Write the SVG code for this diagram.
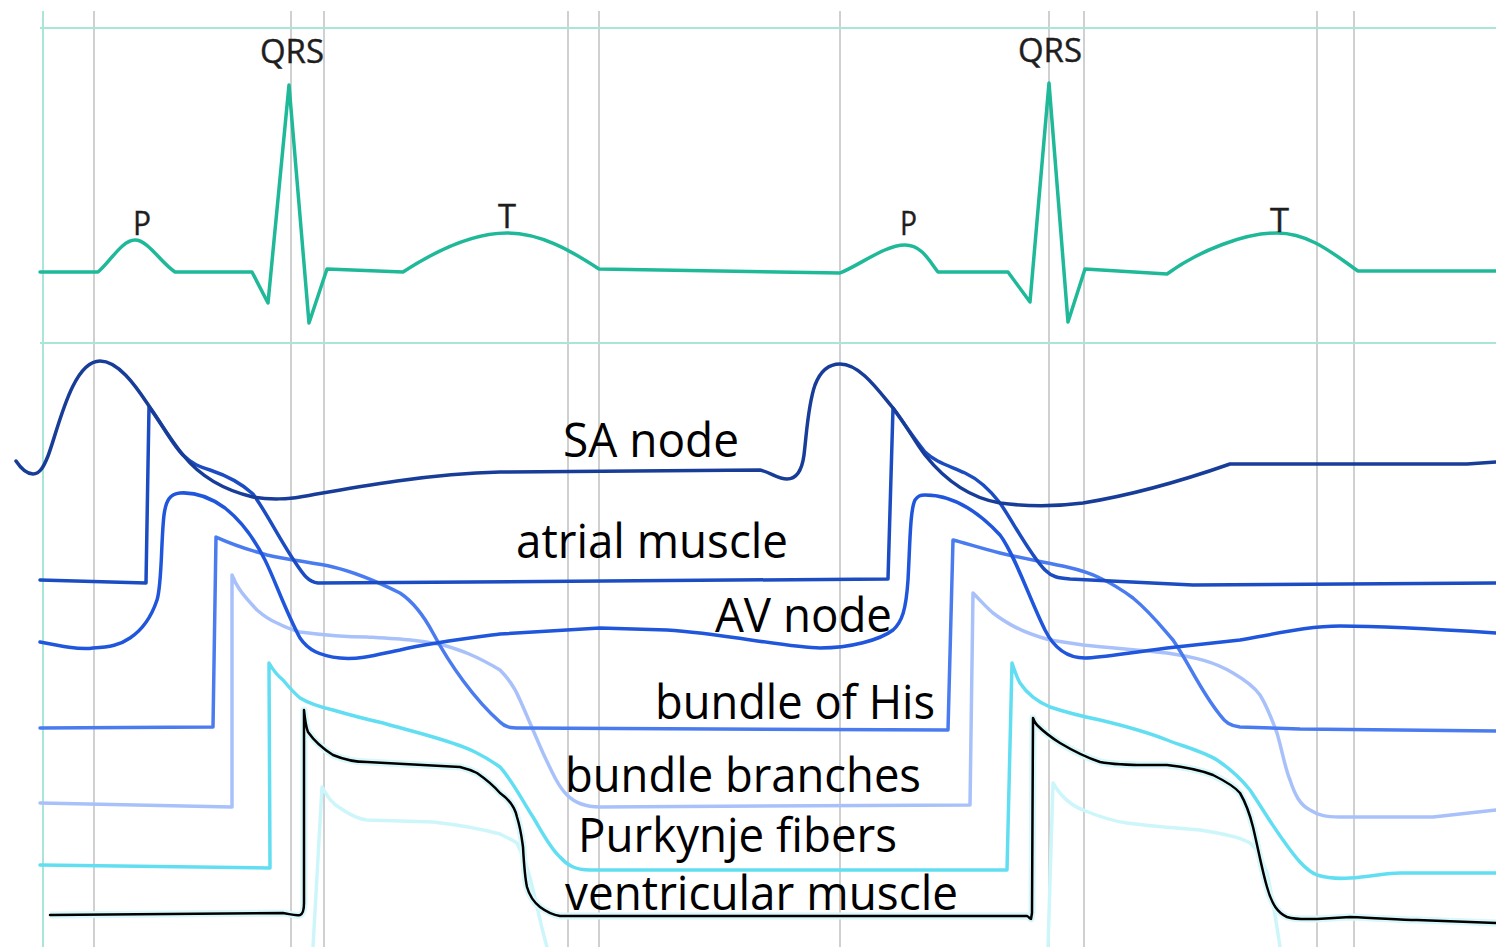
<svg xmlns="http://www.w3.org/2000/svg" width="1496" height="947" viewBox="0 0 1496 947">
<style>
.grid-teal{stroke:#a9e6d8;stroke-width:2;fill:none}
.grid-gray{stroke:#d0d0d0;stroke-width:2;fill:none}
.curve{fill:none;stroke-width:3.5;stroke-linejoin:round;stroke-linecap:round}
.top{font-family:"Open Sans","Noto Sans",sans-serif;font-size:32px;fill:#1e1e1e;stroke:#1e1e1e;stroke-width:0.4}
.lbl{font-family:"Open Sans","Noto Sans",sans-serif;font-size:47px;fill:#000}
</style>
<defs>
<path id="vm" d="M50,915 L283,913 C290,914 295,916 300,915 C303,914 304,910 304,903 L304,710 C305,720 306,727 308,732 C315,742 325,750 333,755 C345,760 355,762 367,762 L460,767 C468,769 473,771 477,773 C487,780 494,786 500,793 C510,800 515,808 517,817 C521,830 522,840 523,847 C524,865 525,878 527,887 C530,898 535,903 540,907 C548,913 553,915 560,916 L1027,916 C1029,917 1030,919 1031,919 L1032,913 L1033,718 C1034,721 1035,723 1037,725 C1045,733 1052,738 1060,743 C1075,752 1088,758 1100,762 C1120,766 1145,765 1167,765 C1185,767 1200,770 1213,775 C1225,781 1235,787 1240,793 C1247,805 1250,815 1253,827 C1258,848 1262,870 1267,887 C1272,905 1278,913 1287,917 C1297,920 1307,919 1317,919 L1350,917 C1380,918 1400,920 1417,920 L1496,923"/>
</defs>
<rect width="1496" height="947" fill="#fff"/>
<g id="grid">
<line class="grid-gray" x1="94" y1="11" x2="94" y2="947"/>
<line class="grid-gray" x1="291" y1="11" x2="291" y2="947"/>
<line class="grid-gray" x1="324" y1="11" x2="324" y2="947"/>
<line class="grid-gray" x1="568" y1="11" x2="568" y2="947"/>
<line class="grid-gray" x1="599" y1="11" x2="599" y2="947"/>
<line class="grid-gray" x1="840" y1="11" x2="840" y2="947"/>
<line class="grid-gray" x1="1049" y1="11" x2="1049" y2="947"/>
<line class="grid-gray" x1="1084" y1="11" x2="1084" y2="947"/>
<line class="grid-gray" x1="1317" y1="11" x2="1317" y2="947"/>
<line class="grid-gray" x1="1354" y1="11" x2="1354" y2="947"/>
<line class="grid-teal" x1="43" y1="11" x2="43" y2="947"/>
<line class="grid-teal" x1="40" y1="28" x2="1496" y2="28"/>
<line class="grid-teal" x1="40" y1="343" x2="1496" y2="343"/>
</g>
<g id="ecg">
<path class="curve" stroke="#1fb99a" d="M40,272 L98,272 C110,262 122,240 135,240 C148,240 160,262 175,272 L252,272 L268,303 L289,85 L309,323 L327,269 L403,272 C440,248 475,233 507,233 C540,233 570,250 599,269 L840,273 C860,265 885,245 905,245 C922,245 930,262 938,272 L1008,272 L1030,302 L1049,83 L1068,322 L1085,269 L1167,274 C1200,250 1245,233 1277,233 C1310,233 1335,255 1358,271 L1496,271"/>
<text class="top" x="260" y="63" textLength="64" lengthAdjust="spacingAndGlyphs">QRS</text>
<text class="top" x="1018" y="62" textLength="64" lengthAdjust="spacingAndGlyphs">QRS</text>
<text class="top" x="133" y="235" textLength="18" lengthAdjust="spacingAndGlyphs">P</text>
<text class="top" x="498" y="228" textLength="18" lengthAdjust="spacingAndGlyphs">T</text>
<text class="top" x="900" y="235" textLength="17" lengthAdjust="spacingAndGlyphs">P</text>
<text class="top" x="1270" y="232" textLength="19" lengthAdjust="spacingAndGlyphs">T</text>
</g>
<g id="action-potentials">
<path id="ventricular-pale" class="curve" stroke="#cdf6fb" d="M313,947 L322,787 C327,795 330,802 340,808 C350,815 358,819 367,820 L433,822 C460,825 485,830 500,834 C508,838 512,840 517,843 C525,860 530,875 533,890 C538,910 542,930 547,947 M1048,947 L1053,783 C1060,795 1070,805 1083,810 C1100,817 1112,821 1127,823 C1150,826 1175,828 1200,830 C1220,833 1240,837 1250,843 C1258,850 1262,860 1267,873 C1272,895 1276,920 1280,947"/>
<path id="purkinje" class="curve" stroke="#62def2" d="M40,865 L270,868 L269,663 C273,670 278,676 283,680 C288,686 294,693 300,698 C310,704 320,707 333,710 C350,715 365,719 383,723 C400,728 417,732 433,737 C450,742 465,747 475,752 C485,757 493,762 500,767 C512,780 522,800 533,817 C542,832 550,848 560,857 C567,865 575,870 590,870 L1007,870 L1012,663 C1015,672 1017,678 1020,683 C1028,695 1038,702 1050,707 C1065,712 1080,716 1100,720 C1125,726 1147,732 1167,740 C1185,747 1205,752 1217,760 C1232,770 1242,780 1250,790 C1262,808 1272,825 1283,840 C1295,857 1305,870 1317,875 C1327,878 1338,879 1350,878 C1370,877 1385,873 1400,873 L1496,873"/>
<path id="bundle-branches" class="curve" stroke="#a9c1fa" d="M40,803 L232,807 L232,575 C236,585 240,592 257,610 C265,617 272,621 277,623 C285,627 292,630 300,632 C330,636 350,637 367,637 C400,639 420,640 443,645 C460,650 475,655 500,670 C510,680 515,688 520,700 C528,718 535,735 543,753 C552,772 558,786 567,795 C575,803 585,807 600,807 L970,805 L973,593 C980,600 985,606 993,613 C1005,622 1020,632 1050,640 L1083,645 C1110,648 1140,650 1167,653 C1195,657 1215,662 1233,673 C1245,680 1255,688 1260,695 C1268,708 1272,720 1277,733 C1282,750 1285,768 1290,780 C1295,795 1300,805 1310,810 C1318,815 1325,817 1340,817 L1433,817 L1496,810"/>
<path id="bundle-of-his" class="curve" stroke="#4a7cf0" d="M40,728 L213,727 L216,537 C225,541 235,546 267,555 C290,560 315,563 333,567 C350,571 370,578 400,593 C415,603 425,618 433,633 C450,665 475,700 500,722 C505,727 510,728 520,728 L948,730 L953,540 C965,543 980,548 1000,553 C1030,560 1050,563 1067,567 C1080,570 1090,573 1100,578 C1115,585 1125,592 1133,598 C1150,612 1160,625 1173,640 C1190,665 1200,690 1220,715 C1225,722 1230,726 1240,727 L1300,729 L1496,731"/>
<path id="av-node" class="curve" stroke="#1f56dc" d="M40,642 C60,646 80,650 93,648 C110,647 120,645 130,638 C145,628 152,615 157,600 C162,585 161,540 164,515 C166,500 170,494 180,493 C195,492 210,497 225,508 C240,520 255,540 265,560 C275,580 285,610 300,638 C308,650 320,656 340,658 C360,660 380,654 400,650 C430,643 470,638 500,634 L600,628 L667,630 C720,633 790,648 820,648 C850,648 880,640 893,630 C902,622 906,610 908,580 C910,545 910,510 915,500 C918,496 920,495 925,495 C950,495 975,508 1000,535 C1015,555 1030,600 1045,630 C1055,650 1068,658 1085,658 C1100,658 1120,654 1167,648 L1240,640 C1280,633 1310,626 1340,626 C1380,626 1420,628 1496,633"/>
<path id="atrial-muscle" class="curve" stroke="#1c4cc2" d="M40,580 L146,583 L149,407 C160,420 172,445 183,455 C192,464 200,467 210,470 C225,475 240,482 253,494 C265,510 280,540 295,562 C303,574 308,582 318,583 L888,579 L893,408 C905,425 915,440 925,452 C935,462 950,466 965,473 C980,480 990,490 1000,503 C1012,520 1030,555 1045,570 C1052,577 1058,578 1070,579 L1193,585 L1496,583"/>
<path id="sa-node" class="curve" stroke="#183d98" d="M16,461 C22,470 28,474 33,474 C40,474 44,466 48,456 C58,430 72,361 100,361 C118,361 135,385 147,403 C160,422 172,442 183,455 C195,470 215,488 253,497 C270,500 290,499 300,497 C340,490 420,474 500,472 L760,470 C770,472 778,479 787,479 C797,479 802,470 804,455 C807,430 808,405 815,385 C820,372 828,364 840,364 C860,364 878,390 893,408 C905,423 915,442 925,455 C945,480 970,498 1000,503 C1030,507 1060,506 1083,503 C1120,497 1170,485 1230,464 L1467,464 L1496,462"/>
<use href="#vm" fill="none" stroke="#d8f8fc" stroke-width="7" stroke-linejoin="round"/>
<use id="ventricular-muscle" href="#vm" fill="none" stroke="#000" stroke-width="2.5" stroke-linejoin="round" stroke-linecap="round"/>
</g>
<g id="labels">
<text class="lbl" x="563" y="457" textLength="176" lengthAdjust="spacingAndGlyphs">SA node</text>
<text class="lbl" x="516" y="558" textLength="272" lengthAdjust="spacingAndGlyphs">atrial muscle</text>
<text class="lbl" x="715" y="632" textLength="177" lengthAdjust="spacingAndGlyphs">AV node</text>
<text class="lbl" x="655" y="719" textLength="280" lengthAdjust="spacingAndGlyphs">bundle of His</text>
<text class="lbl" x="565" y="792" textLength="356" lengthAdjust="spacingAndGlyphs">bundle branches</text>
<text class="lbl" x="578" y="852" textLength="319" lengthAdjust="spacingAndGlyphs">Purkynje fibers</text>
<text class="lbl" x="565" y="910" textLength="393" lengthAdjust="spacingAndGlyphs">ventricular muscle</text>
</g>
</svg>
